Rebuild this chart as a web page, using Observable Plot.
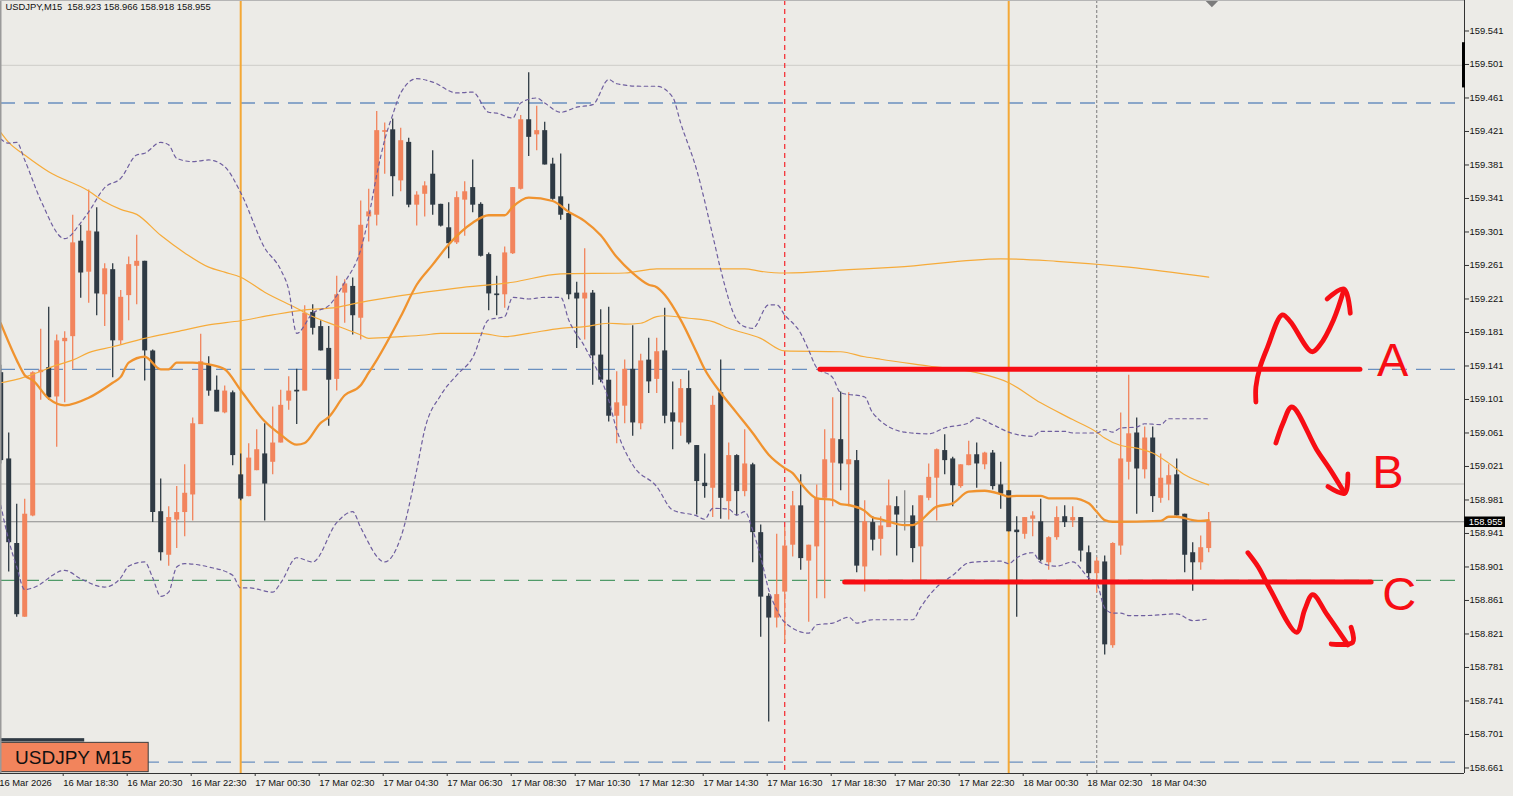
<!DOCTYPE html>
<html>
<head>
<meta charset="utf-8">
<script src="https://cdn.jsdelivr.net/npm/d3@7"></script>
<script src="https://cdn.jsdelivr.net/npm/@observablehq/plot@0.6"></script>
<style>
html,body{margin:0;padding:0;background:#ecebe7;overflow:hidden}
#chart svg{display:block}
</style>
</head>
<body>
<div id="chart"></div>
<script>
const symbolLine = "USDJPY,M15  158.923 158.966 158.918 158.955";
const badgeLabel = "USDJPY M15";
const lastPrice = 158.955;
const timeLabels = ["16 Mar 2026","16 Mar 18:30","16 Mar 20:30","16 Mar 22:30","17 Mar 00:30","17 Mar 02:30","17 Mar 04:30","17 Mar 06:30","17 Mar 08:30","17 Mar 10:30","17 Mar 12:30","17 Mar 14:30","17 Mar 16:30","17 Mar 18:30","17 Mar 20:30","17 Mar 22:30","18 Mar 00:30","18 Mar 02:30","18 Mar 04:30"];
const priceTicks = [159.541,159.501,159.461,159.421,159.381,159.341,159.301,159.261,159.221,159.181,159.141,159.101,159.061,159.021,158.981,158.941,158.901,158.861,158.821,158.781,158.741,158.701,158.661];

const open = [159.133,159.030,158.929,158.841,158.962,159.133,159.139,159.104,159.170,159.176,
159.290,159.253,159.301,159.226,159.256,159.171,159.225,159.260,159.266,159.159,
158.967,158.915,158.957,158.966,158.987,159.071,159.142,159.112,159.085,159.109,
159.011,158.985,159.016,159.036,159.026,159.049,159.099,159.112,159.111,159.205,
159.188,159.162,159.125,159.228,159.236,159.198,159.319,159.321,159.420,159.423,
159.362,159.408,159.333,159.346,159.370,159.334,159.306,159.288,159.339,159.354,
159.334,159.274,159.227,159.226,159.275,159.352,159.435,159.417,159.422,159.382,
159.343,159.323,159.228,159.221,159.228,159.154,159.124,159.081,159.093,159.137,
159.072,159.148,159.125,159.159,159.085,159.073,159.114,159.046,159.001,158.995,
159.109,158.979,159.034,158.991,159.023,158.942,158.866,158.840,158.871,158.927,
158.974,158.908,158.925,158.983,159.025,159.053,159.023,159.028,158.901,158.954,
158.934,158.948,158.973,158.963,158.962,158.925,158.983,159.007,159.040,159.030,
158.997,159.022,159.035,159.023,159.037,158.999,158.992,158.945,158.940,158.958,
158.955,158.906,158.936,158.961,158.956,158.960,158.918,158.893,158.907,158.807,
158.926,159.026,159.061,159.017,159.055,158.983,158.999,159.011,158.964,158.918,
158.906,158.923];
const high = [159.142,159.061,158.976,158.982,159.134,159.185,159.211,159.178,159.182,159.321,
159.309,159.351,159.330,159.263,159.263,159.231,159.271,159.297,159.266,159.160,
159.006,158.973,158.997,159.023,159.079,159.179,159.152,159.129,159.117,159.111,
159.036,159.048,159.065,159.072,159.092,159.112,159.128,159.137,159.213,159.214,
159.195,159.188,159.248,159.244,159.246,159.338,159.352,159.445,159.431,159.436,
159.425,159.413,159.349,159.361,159.398,159.334,159.336,159.349,159.361,159.387,
159.336,159.276,159.248,159.283,159.354,159.440,159.491,159.451,159.432,159.389,
159.394,159.334,159.241,159.281,159.231,159.208,159.211,159.134,159.148,159.189,
159.155,159.174,159.174,159.210,159.122,159.125,159.135,159.046,159.036,159.105,
159.148,159.049,159.035,159.065,159.025,158.951,158.869,158.940,158.948,158.991,
159.011,158.927,158.999,159.065,159.103,159.110,159.109,159.040,158.980,158.961,
158.961,159.005,158.985,158.992,158.974,158.986,159.024,159.042,159.059,159.032,
159.023,159.051,159.049,159.038,159.040,159.026,158.992,158.961,158.960,158.967,
158.982,158.937,158.973,158.974,158.973,158.960,158.926,158.912,158.914,158.930,
159.085,159.130,159.079,159.068,159.068,159.036,159.023,159.030,158.964,158.930,
158.938,158.966];
const low = [159.024,158.895,158.841,158.841,158.961,159.100,159.100,159.044,159.097,159.137,
159.222,159.216,159.201,159.188,159.127,159.166,159.195,159.214,159.123,158.954,
158.908,158.902,158.923,158.937,158.956,159.071,159.105,159.086,159.084,159.022,
158.980,158.985,159.016,158.956,159.011,159.049,159.088,159.071,159.111,159.178,
159.159,159.069,159.111,159.192,159.178,159.172,159.289,159.308,159.370,159.343,
159.349,159.330,159.308,159.319,159.321,159.307,159.269,159.286,159.296,159.324,
159.271,159.207,159.201,159.210,159.274,159.351,159.391,159.398,159.381,159.339,
159.315,159.220,159.162,159.172,159.118,159.121,159.074,159.048,159.072,159.057,
159.065,159.108,159.108,159.072,159.041,159.057,159.047,158.963,158.983,158.960,
158.958,158.957,158.962,158.985,158.906,158.817,158.716,158.828,158.810,158.913,
158.897,158.835,158.863,158.863,158.973,158.992,158.973,158.894,158.871,158.920,
158.914,158.948,158.914,158.944,158.906,158.880,158.980,158.956,159.011,158.973,
158.995,159.022,158.995,159.017,158.993,158.970,158.943,158.841,158.934,158.937,
158.907,158.897,158.933,158.948,158.948,158.907,158.882,158.870,158.796,158.804,
158.915,159.005,158.964,159.006,158.966,158.977,158.980,158.962,158.894,158.872,
158.897,158.918];
const close = [159.028,158.930,158.844,158.964,159.133,159.136,159.103,159.171,159.174,159.288,
159.252,159.302,159.227,159.257,159.171,159.223,159.262,159.266,159.159,158.966,
158.918,158.960,158.966,158.989,159.072,159.146,159.111,159.086,159.111,159.034,
158.982,159.031,159.041,159.000,159.049,159.094,159.111,159.110,159.204,159.186,
159.159,159.124,159.226,159.239,159.201,159.309,159.325,159.422,159.422,159.367,
159.410,159.333,159.345,159.356,159.333,159.308,159.287,159.342,159.349,159.333,
159.272,159.227,159.225,159.276,159.354,159.435,159.414,159.422,159.381,159.340,
159.321,159.226,159.221,159.228,159.153,159.124,159.081,159.097,159.137,159.073,
159.147,159.122,159.158,159.081,159.074,159.114,159.049,159.003,158.997,159.094,
158.983,159.034,158.991,159.024,158.942,158.865,158.840,158.868,158.926,158.974,
158.911,158.927,158.983,159.029,159.054,159.024,159.029,158.902,158.955,158.933,
158.950,158.974,158.963,158.963,158.923,158.986,159.008,159.041,159.028,158.998,
159.023,159.035,159.024,159.037,158.997,158.988,158.943,158.942,158.960,158.962,
158.909,158.936,158.960,158.954,158.960,158.920,158.893,158.908,158.808,158.929,
159.030,159.060,159.018,159.055,158.985,159.007,159.010,158.962,158.915,158.906,
158.924,158.955];

const fastMa = [[0,159.192],[2,159.148],[3,159.130],[4,159.124],[6,159.102],[8,159.094],[11,159.103],[14,159.121],[15,159.128],[16,159.145],[18,159.152],[20,159.137],[21,159.137],[22,159.145],[24,159.145],[26,159.143],[28,159.137],[30,159.112],[33,159.075],[35,159.059],[37,159.047],[38,159.049],[40,159.073],[41,159.080],[43,159.106],[45,159.118],[46,159.133],[47,159.148],[50,159.200],[52,159.238],[54,159.262],[56,159.286],[59,159.312],[61,159.321],[63,159.321],[64,159.331],[66,159.342],[69,159.338],[71,159.325],[73,159.314],[75,159.297],[77,159.271],[79,159.252],[81,159.238],[82,159.235],[83,159.226],[85,159.196],[87,159.157],[88,159.137],[90,159.109],[92,159.085],[94,159.061],[96,159.035],[98,159.019],[99,159.013],[100,159.001],[102,158.983],[104,158.981],[105,158.976],[106,158.975],[108,158.968],[109,158.960],[110,158.958],[111,158.955],[113,158.951],[114,158.951],[117,158.973],[119,158.977],[121,158.991],[123,158.992],[125,158.988],[126,158.985],[127,158.986],[130,158.986],[131,158.983],[134,158.983],[136,158.977],[137,158.967],[138,158.957],[139,158.955],[145,158.956],[146,158.961],[147,158.961],[149,158.957],[150,158.956],[151,158.957]];
const midMa = [[0,159.420],[1,159.408],[3,159.393],[6,159.373],[11,159.350],[13,159.337],[15,159.328],[17,159.322],[20,159.297],[23,159.276],[26,159.259],[28,159.253],[30,159.247],[33,159.229],[37,159.210],[39,159.200],[42,159.189],[45,159.178],[46,159.174],[50,159.176],[53,159.178],[55,159.180],[60,159.180],[63,159.176],[66,159.180],[70,159.186],[73,159.188],[76,159.192],[78,159.191],[80,159.192],[82,159.200],[83,159.201],[86,159.198],[89,159.194],[91,159.186],[95,159.174],[98,159.159],[105,159.158],[108,159.152],[110,159.149],[116,159.141],[122,159.133],[126,159.121],[130,159.097],[134,159.077],[137,159.062],[138,159.055],[140,159.046],[142,159.043],[144,159.037],[146,159.025],[148,159.011],[151,158.999]];
const slowMa = [[0,159.121],[2,159.125],[4,159.131],[7,159.142],[9,159.148],[11,159.157],[14,159.164],[18,159.174],[22,159.182],[26,159.190],[30,159.195],[34,159.202],[38,159.208],[42,159.211],[45,159.217],[50,159.225],[57,159.234],[64,159.241],[70,159.251],[78,159.252],[82,159.257],[93,159.257],[95,159.254],[98,159.252],[106,159.256],[112,159.259],[125,159.269],[132,159.266],[141,159.259],[151,159.247]];
const upperBand = [[0,159.412],[1,159.407],[2,159.408],[3,159.387],[5,159.339],[8,159.293],[10,159.312],[11,159.325],[13,159.354],[15,159.365],[17,159.393],[18,159.395],[20,159.408],[21,159.405],[22,159.389],[24,159.385],[26,159.387],[28,159.379],[30,159.348],[33,159.282],[35,159.256],[36,159.232],[37,159.180],[39,159.204],[41,159.213],[43,159.241],[45,159.280],[46,159.319],[47,159.369],[48,159.411],[49,159.441],[50,159.467],[52,159.484],[54,159.480],[57,159.467],[59,159.468],[61,159.444],[62,159.443],[64,159.437],[65,159.455],[67,159.461],[68,159.455],[70,159.444],[72,159.450],[74,159.453],[76,159.483],[77,159.478],[80,159.475],[82,159.475],[84,159.462],[85,159.431],[87,159.375],[89,159.297],[90,159.256],[92,159.196],[93,159.188],[94,159.186],[96,159.214],[97,159.214],[98,159.202],[100,159.180],[101,159.160],[102,159.139],[104,159.127],[105,159.109],[108,159.104],[109,159.085],[113,159.062],[116,159.060],[118,159.067],[121,159.073],[122,159.079],[124,159.071],[126,159.062],[129,159.057],[130,159.063],[133,159.063],[134,159.061],[137,159.061],[138,159.065],[139,159.062],[140,159.067],[142,159.068],[143,159.072],[145,159.071],[146,159.078],[149,159.078],[151,159.078]];
const lowerBand = [[0,158.975],[1,158.933],[2,158.901],[3,158.874],[4,158.876],[8,158.897],[10,158.887],[13,158.877],[15,158.888],[16,158.902],[18,158.907],[19,158.888],[20,158.866],[21,158.871],[22,158.901],[23,158.905],[26,158.901],[29,158.891],[30,158.876],[31,158.876],[34,158.871],[35,158.882],[37,158.912],[39,158.907],[42,158.954],[44,158.967],[45,158.948],[48,158.907],[50,158.936],[52,159.017],[53,159.065],[55,159.106],[57,159.130],[59,159.151],[61,159.196],[63,159.200],[64,159.223],[66,159.221],[68,159.223],[70,159.223],[71,159.196],[73,159.164],[76,159.100],[77,159.065],[79,159.023],[82,158.997],[84,158.969],[87,158.962],[88,158.958],[89,158.971],[91,158.970],[92,158.963],[93,158.967],[94,158.945],[95,158.913],[96,158.874],[97,158.850],[98,158.835],[101,158.822],[102,158.832],[104,158.834],[106,158.841],[107,158.834],[109,158.838],[114,158.838],[115,158.853],[117,158.877],[119,158.891],[121,158.906],[122,158.907],[125,158.908],[126,158.905],[127,158.912],[129,158.918],[130,158.906],[132,158.902],[134,158.907],[136,158.888],[137,158.882],[138,158.852],[139,158.846],[140,158.846],[141,158.843],[143,158.843],[147,158.845],[149,158.837],[151,158.839]];

const blueLevels = [159.455,159.137,158.668];
const greenLevels = [158.885];
const greyLevels = [159.500,159.000];
const orangeBars = [30,126];
const redBar = 98;
const greyBar = 137;

const levelA = [[102.4,159.137],[169.9,159.137]];
const levelC = [[105.5,158.883],[171.3,158.883]];
const upStroke = [[156.9,159.098],[156.9,159.116],[157.4,159.139],[158.3,159.162],[160.2,159.202],[161.2,159.194],[163.9,159.158],[164.9,159.166],[166.6,159.196],[167.9,159.232]];
const upHead = [[165.8,159.221],[167.9,159.233],[168.7,159.204]];
const midStroke = [[159.4,159.049],[160.3,159.073],[161.4,159.092],[164.5,159.041],[166.2,159.017],[168.0,158.989]];
const midHead = [[165.9,158.997],[168.0,158.989],[168.4,159.012]];
const downStroke = [[155.9,158.918],[157.2,158.901],[158.7,158.874],[162.0,158.823],[163.0,158.850],[164.0,158.868],[165.8,158.844],[168.4,158.808]];
const downHead = [[166.3,158.809],[169.0,158.811],[168.8,158.829]];
const letters = [{t:"A",bar:174.0,price:159.147},{t:"B",bar:173.4,price:159.013},{t:"C",bar:174.8,price:158.868}];

const upColor = "#f2845c", downColor = "#2f3a44", red = "#f70d14";
const bars = d3.range(open.length);
const isUp = i => close[i] > open[i];
const isDoji = i => close[i] === open[i];
const isDown = i => close[i] < open[i];
const font = "Liberation Sans, Arial, sans-serif";

const candle = (test, color) => [
  Plot.ruleX(bars.filter(test), {x: i => i, y1: i => low[i], y2: i => high[i], stroke: color, strokeWidth: 1.3}),
  Plot.ruleX(bars.filter(test), {x: i => i, y1: i => open[i], y2: i => close[i], stroke: color, strokeWidth: 5})
];
const line = (pts, o) => Plot.line(pts, {x: d => d[0], y: d => d[1], ...o});
const ink = (pts, w = 4.8, curve = "catmull-rom") => line(pts, {stroke: red, strokeWidth: w, strokeLinecap: "round", strokeLinejoin: "round", curve});

const chart = Plot.plot({
  width: 1513, height: 796,
  marginLeft: 0, marginRight: 49, marginTop: 0, marginBottom: 23,
  x: {domain: [-0.025, 182.975], axis: null},
  y: {domain: [158.6544, 159.5774], axis: null},
  style: {background: "#ecebe7", fontFamily: font},
  marks: [
    Plot.ruleY(greyLevels.slice(0,1), {stroke: "#d3d2ce", strokeWidth: 1.2}),
    Plot.ruleY(greyLevels.slice(1), {stroke: "#d3d2ce", strokeWidth: 2}),
    Plot.ruleY(blueLevels, {stroke: "#6a90c0", strokeWidth: 1.4, strokeDasharray: "15 9"}),
    Plot.ruleY(greenLevels, {stroke: "#4f9a68", strokeWidth: 1.4, strokeDasharray: "15 9"}),
    Plot.ruleY([lastPrice], {stroke: "#8c8c8c", strokeWidth: 1.2}),
    Plot.ruleX(orangeBars, {stroke: "#f4a836", strokeWidth: 2}),
    Plot.ruleX([redBar], {stroke: "#f4343a", strokeWidth: 1.3, strokeDasharray: "5 4"}),
    Plot.ruleX([greyBar], {stroke: "#8d8d8d", strokeWidth: 1.2, strokeDasharray: "3 2"}),
    ...candle(isUp, upColor),
    ...candle(isDown, downColor),
    ...candle(isDoji, "#8a8a8a"),
    line(slowMa, {stroke: "#f6ab3a", strokeWidth: 1.2, curve: "monotone-x"}),
    line(midMa, {stroke: "#f6ab3a", strokeWidth: 1.2, curve: "monotone-x"}),
    line(fastMa, {stroke: "#f0932f", strokeWidth: 2.3, curve: "monotone-x"}),
    line(upperBand, {stroke: "#6f5f9f", strokeWidth: 1.2, strokeDasharray: "3.5 3.5", curve: "monotone-x"}),
    line(lowerBand, {stroke: "#6f5f9f", strokeWidth: 1.2, strokeDasharray: "3.5 3.5", curve: "monotone-x"}),
    ink(levelA, 5, "linear"), ink(levelC, 5, "linear"),
    ink(upStroke), ink(upHead), ink(midStroke), ink(midHead), ink(downStroke), ink(downHead),
    Plot.text(letters, {x: "bar", y: "price", text: "t", fill: red, fontSize: 47, fontFamily: font}),
    Plot.text([symbolLine], {frameAnchor: "top-left", dx: 5, dy: 3, textAnchor: "start", fontSize: 9.4, fill: "#111", text: d => d}),
    Plot.dot([[151.4, 159.5774]], {x: d => d[0], y: d => d[1], symbol: "diamond2", r: 6, fill: "#7c7c7c"}),
    Plot.rect([0], {x1: 0.04, x2: 10.5, y1: 158.692, y2: 158.696, fill: "#2f3a44"}),
    Plot.rect([0], {x1: 0.04, x2: 18.5, y1: 158.656, y2: 158.691, fill: upColor, stroke: "#3d3d3d", strokeWidth: 1}),
    Plot.text([badgeLabel], {x: 9.1, y: 158.6735, text: d => d, fontSize: 19, fill: "#111", fontFamily: font}),
    Plot.ruleX([0], {x: -0.025, stroke: "#9a9a9a", strokeWidth: 2}),
    Plot.ruleY([159.5774], {stroke: "#b5b5b5", strokeWidth: 1}),
    Plot.ruleY([158.6544], {stroke: "#333"}),
    Plot.ruleX([182.975], {stroke: "#333"}),
    Plot.axisY(priceTicks, {anchor: "right", tickSize: 4, tickPadding: 1, label: null, fontSize: 9.4, fill: "#111", stroke: "#333", tickFormat: d3.format(".3f")}),
    Plot.axisX(d3.range(0, 152, 8), {anchor: "bottom", tickSize: 3, tickPadding: 3, label: null, fontSize: 9.4, fill: "#111", stroke: "#333", textAnchor: "start", dx: -1.5, tickFormat: i => timeLabels[i / 8]}),
    Plot.ruleX([182.85], {y1: 159.473, y2: 159.527, stroke: "#000", strokeWidth: 3}),
    Plot.ruleY([lastPrice], {x1: 183, x2: 188.1, stroke: "#000", strokeWidth: 10.5}),
    Plot.text([lastPrice], {x: 183.5, y: d => d, text: d => d3.format(".3f")(d), fill: "#fff", textAnchor: "start", fontSize: 9.4, fontFamily: font})
  ]
});
document.getElementById("chart").append(chart);
</script>
</body>
</html>
